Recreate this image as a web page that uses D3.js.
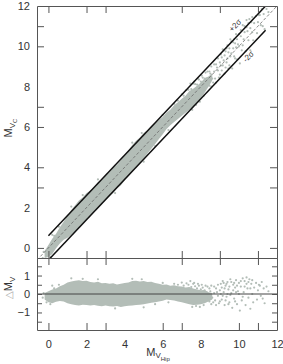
<!DOCTYPE html>
<html>
<head>
<meta charset="utf-8">
<script src="https://cdn.jsdelivr.net/npm/d3@7"></script>
<style>
body { margin: 0; background: #fff; }
#vis { width: 283px; height: 364px; }
text { font-family: "Liberation Sans", Arial, sans-serif; fill: #333; }
</style>
</head>
<body>
<div id="vis"></div>
<script>
// dense part of the residual cloud: x (M_V Hip) with lower / upper edge of delta M_V
var band_x  = [-0.2, 0.0, 0.2, 0.4, 0.6, 0.8, 1.0, 1.2, 1.4, 1.6, 1.8, 2.0, 2.2, 2.4, 2.6, 2.8, 3.0, 3.2, 3.4, 3.6, 3.8, 4.0, 4.2, 4.4, 4.6, 4.8, 5.0, 5.2, 5.4, 5.6, 5.8, 6.0, 6.2, 6.4, 6.6, 6.8, 7.0, 7.2, 7.4, 7.6, 7.8, 8.0, 8.2, 8.4, 8.6];
var band_hi = [0.05, 0.15, 0.25, 0.3, 0.42, 0.5, 0.62, 0.68, 0.72, 0.75, 0.7, 0.72, 0.65, 0.62, 0.66, 0.58, 0.6, 0.55, 0.58, 0.52, 0.55, 0.6, 0.62, 0.7, 0.72, 0.68, 0.7, 0.65, 0.66, 0.6, 0.55, 0.5, 0.52, 0.45, 0.48, 0.42, 0.4, 0.35, 0.38, 0.3, 0.25, 0.2, 0.22, 0.1, 0.05];
var band_lo = [-0.3, -0.45, -0.5, -0.42, -0.38, -0.4, -0.5, -0.55, -0.6, -0.62, -0.58, -0.6, -0.62, -0.6, -0.64, -0.66, -0.62, -0.66, -0.68, -0.65, -0.7, -0.66, -0.64, -0.62, -0.6, -0.58, -0.55, -0.52, -0.48, -0.45, -0.4, -0.36, -0.3, -0.32, -0.35, -0.4, -0.45, -0.5, -0.55, -0.6, -0.58, -0.55, -0.5, -0.4, -0.3];

// sparse stars outside the dense cloud
var star_x = [-0.3, -0.25, -0.1, 0.1, 0.3, 0.55, 0.2, 1.2, 1.8, 2.6, 4.4, 4.9, 3.5, 5.0, 6.0, 6.3, 5.6,
	6.6, 6.8, 7.0, 7.1, 7.25, 7.35, 7.45, 7.5, 7.6, 7.7, 7.8, 7.9, 8.0, 8.1, 8.2, 8.3, 8.35, 8.4, 8.45, 8.5, 8.55, 8.6, 8.7, 8.75, 8.8, 8.9, 8.95, 9.0,
	9.05, 9.1, 9.15, 9.2, 9.25, 9.3, 9.35, 9.4, 9.45, 9.5, 9.55, 9.6, 9.65, 9.7, 9.75, 9.8, 9.85, 9.9, 9.95, 10.0,
	10.05, 10.1, 10.15, 10.2, 10.25, 10.3, 10.35, 10.4, 10.45, 10.5, 10.55, 10.6, 10.65, 10.7, 10.75, 10.8, 10.9, 10.95, 11.0, 11.1, 11.15, 11.2, 11.3, 11.35, 11.45, 11.55,
	7.55, 7.65, 7.75, 7.85, 7.95, 8.05, 8.15, 8.25, 8.35, 8.45, 8.55, 8.65, 8.7, 8.8, 8.85, 8.9, 9.0, 9.05, 9.1, 9.15, 9.2, 9.25,
	9.3, 9.35, 9.4, 9.45, 9.5, 9.55, 9.6, 9.7, 9.75, 9.8, 9.85, 9.9, 10.0, 10.1, 10.2, 10.3, 10.4, 10.5, 10.6, 10.7, 11.05, 11.25];
var star_d = [-0.2, 0.05, -0.45, -0.55, 0.3, 0.5, 0.45, 0.85, 0.82, 0.8, 0.82, 0.8, -0.78, -0.72, 0.6, -0.45, -0.55,
	0.55, 0.5, 0.62, 0.45, 0.58, 0.5, 0.7, 0.38, 0.55, 0.42, 0.3, 0.45, 0.25, 0.35, 0.2, 0.1, -0.05, -0.25, -0.4, 0.15, -0.55, -0.2, 0.05, -0.35, 0.3, -0.1, -0.5, 0.2,
	0.55, -0.3, 0.7, 0.1, -0.6, 0.45, -0.15, 0.65, 0.25, -0.45, 0.8, 0.05, -0.75, 0.5, -0.25, 0.35, 0.75, -0.55, 0.15, 0.6,
	-0.9, 0.4, -0.35, 0.85, 0.1, 0.7, -0.6, 0.9, 0.3, -0.2, 0.8, -0.8, 0.55, 0.0, -0.45, 0.35, 0.6, -0.3, 0.2, 0.45, -0.1, 0.65, 0.3, -0.5, 0.4, 0.15,
	-0.7, 0.6, -0.65, 0.55, -0.7, 0.5, -0.6, 0.45, 0.4, 0.3, 0.45, -0.45, 0.4, -0.6, 0.1, 0.5, -0.4, 0.0, 0.35, -0.1, 0.6, 0.3,
	-0.35, 0.55, 0.0, -0.55, 0.4, -0.05, 0.65, 0.2, 0.6, -0.4, 0.1, 0.45, 0.0, 0.7, -0.15, 0.4, 0.55, 0.65, 0.3, 0.75, 0.5, -0.25];

var sigma2 = 0.6;            // the +/-2 sigma offset
var sigma_range = [0, 11.4];

var x_labels = [0, 2, 4, 6, 8, 10, 12];
var y_labels = [0, 2, 4, 6, 8, 10, 12];
var d_labels = [-1, 0, 1];
var x_ticks_main = [0, 2, 3, 7, 9, 11];
var x_ticks_bottom = [0, 2, 3, 6, 7, 10, 11];
var y_ticks_main = [0, 3, 4, 6, 7, 10, 11];
var d_ticks = [-1.5, -1, -0.5, 0, 0.5, 1, 1.5];

var W = 283, H = 364;
var col = '#b3bdb7';
var svg = d3.select('#vis').append('svg').attr('width', W).attr('height', H);

var x_scale = d3.scaleLinear().domain([-0.6, 12]).range([37, 277]);
var y_scale = d3.scaleLinear().domain([-0.5, 12]).range([258, 6]);
var d_scale = d3.scaleLinear().domain([-1.95, 1.95]).range([330, 258]);

var defs = svg.append('defs');
defs.append('clipPath').attr('id', 'clipMain').append('rect')
	.attr('x', 37).attr('y', 6).attr('width', 240).attr('height', 252);
defs.append('clipPath').attr('id', 'clipRes').append('rect')
	.attr('x', 37).attr('y', 258).attr('width', 240).attr('height', 72);

var band = band_x.map(function(x, i) { return {x: x, lo: band_lo[i], hi: band_hi[i]}; });
var stars = star_x.map(function(x, i) { return {x: x, d: star_d[i]}; });

// ---- main panel
var main = svg.append('g').attr('clip-path', 'url(#clipMain)');
main.append('path').datum(band)
	.attr('fill', col)
	.attr('d', d3.area()
		.x(function(d) { return x_scale(d.x); })
		.y0(function(d) { return y_scale(d.x + d.lo); })
		.y1(function(d) { return y_scale(d.x + d.hi); }));
main.selectAll('.star').data(stars).enter().append('circle')
	.attr('class', 'star')
	.attr('cx', function(d) { return x_scale(d.x); })
	.attr('cy', function(d) { return y_scale(d.x + d.d); })
	.attr('r', 1.1).attr('fill', col);
main.append('line')
	.attr('x1', x_scale(-0.6)).attr('y1', y_scale(-0.6))
	.attr('x2', x_scale(12)).attr('y2', y_scale(12))
	.attr('stroke', '#6a6a6a').attr('stroke-width', 0.8).attr('stroke-dasharray', '3,2');
[sigma2, -sigma2].forEach(function(o) {
	main.append('line')
		.attr('x1', x_scale(sigma_range[0])).attr('y1', y_scale(sigma_range[0] + o))
		.attr('x2', x_scale(sigma_range[1])).attr('y2', y_scale(sigma_range[1] + o))
		.attr('stroke', '#111').attr('stroke-width', 1.5);
});
var ang = -Math.atan((y_scale(0) - y_scale(1)) / (x_scale(1) - x_scale(0))) * 180 / Math.PI;
svg.append('text').attr('transform', 'translate(' + x_scale(9.9) + ',' + y_scale(10.95) + ') rotate(' + ang + ')')
	.attr('text-anchor', 'middle').attr('font-size', 8).text('+2σ');
svg.append('text').attr('transform', 'translate(' + x_scale(10.6) + ',' + y_scale(9.4) + ') rotate(' + ang + ')')
	.attr('text-anchor', 'middle').attr('font-size', 8).text('-2σ');

// ---- residual panel
var res = svg.append('g').attr('clip-path', 'url(#clipRes)');
res.append('path').datum(band)
	.attr('fill', col)
	.attr('d', d3.area()
		.x(function(d) { return x_scale(d.x); })
		.y0(function(d) { return d_scale(d.lo); })
		.y1(function(d) { return d_scale(d.hi); }));
res.selectAll('.star').data(stars).enter().append('circle')
	.attr('class', 'star')
	.attr('cx', function(d) { return x_scale(d.x); })
	.attr('cy', function(d) { return d_scale(d.d); })
	.attr('r', 1.1).attr('fill', col);
res.append('line')
	.attr('x1', x_scale(-0.6)).attr('x2', x_scale(12))
	.attr('y1', d_scale(0)).attr('y2', d_scale(0))
	.attr('stroke', '#444').attr('stroke-width', 1);

// ---- axes (ticks point inwards)
function tickAxis(axis, tr) {
	var g = svg.append('g').attr('transform', tr).call(axis.tickSizeOuter(0).tickFormat(''));
	g.selectAll('path, line').attr('stroke', '#555');
	return g;
}
function labelAxis(axis, tr, pad) {
	var g = svg.append('g').attr('transform', tr).call(axis.tickSize(0).tickPadding(pad));
	g.select('.domain').remove();
	g.selectAll('text').attr('font-size', 11).attr('fill', '#333')
		.attr('font-family', '"Liberation Sans", Arial, sans-serif');
	return g;
}
tickAxis(d3.axisLeft(y_scale).tickValues(y_ticks_main).tickSizeInner(-7), 'translate(37,0)');
tickAxis(d3.axisRight(y_scale).tickValues(y_ticks_main).tickSizeInner(-7), 'translate(277,0)');
tickAxis(d3.axisTop(x_scale).tickValues(x_ticks_main).tickSizeInner(-7), 'translate(0,6)');
tickAxis(d3.axisBottom(x_scale).tickValues(x_ticks_main).tickSizeInner(-7), 'translate(0,258)');
tickAxis(d3.axisTop(x_scale).tickValues(x_ticks_main).tickSizeInner(-7), 'translate(0,258)');
tickAxis(d3.axisLeft(d_scale).tickValues(d_ticks).tickSizeInner(-5), 'translate(37,0)');
tickAxis(d3.axisRight(d_scale).tickValues(d_ticks).tickSizeInner(-5), 'translate(277,0)');
tickAxis(d3.axisBottom(x_scale).tickValues(x_ticks_bottom).tickSizeInner(-7), 'translate(0,330)');

labelAxis(d3.axisLeft(y_scale).tickValues(y_labels).tickFormat(d3.format('d')), 'translate(37,0)', 7);
labelAxis(d3.axisLeft(d_scale).tickValues(d_labels).tickFormat(d3.format('d')), 'translate(37,0)', 7);
labelAxis(d3.axisBottom(x_scale).tickValues(x_labels).tickFormat(d3.format('d')), 'translate(0,330)', 10);

// ---- axis titles
var yt = svg.append('text').attr('transform', 'translate(12,128) rotate(-90)').attr('text-anchor', 'middle');
yt.append('tspan').attr('font-size', 11).text('M');
yt.append('tspan').attr('font-size', 8).attr('dy', 3).text('V');
yt.append('tspan').attr('font-size', 6).attr('dy', 2).text('C');

var dt = svg.append('text').attr('transform', 'translate(12,288) rotate(-90)').attr('text-anchor', 'middle');
dt.append('tspan').attr('font-size', 10).attr('fill', '#aaa').text('△');
dt.append('tspan').attr('font-size', 11).text('M');
dt.append('tspan').attr('font-size', 8).attr('dy', 3).text('V');

var xt = svg.append('text').attr('x', 158).attr('y', 356).attr('text-anchor', 'middle');
xt.append('tspan').attr('font-size', 11).text('M');
xt.append('tspan').attr('font-size', 8).attr('dy', 2).text('V');
xt.append('tspan').attr('font-size', 6).attr('dy', 3).text('Hip');
</script>
</body>
</html>
